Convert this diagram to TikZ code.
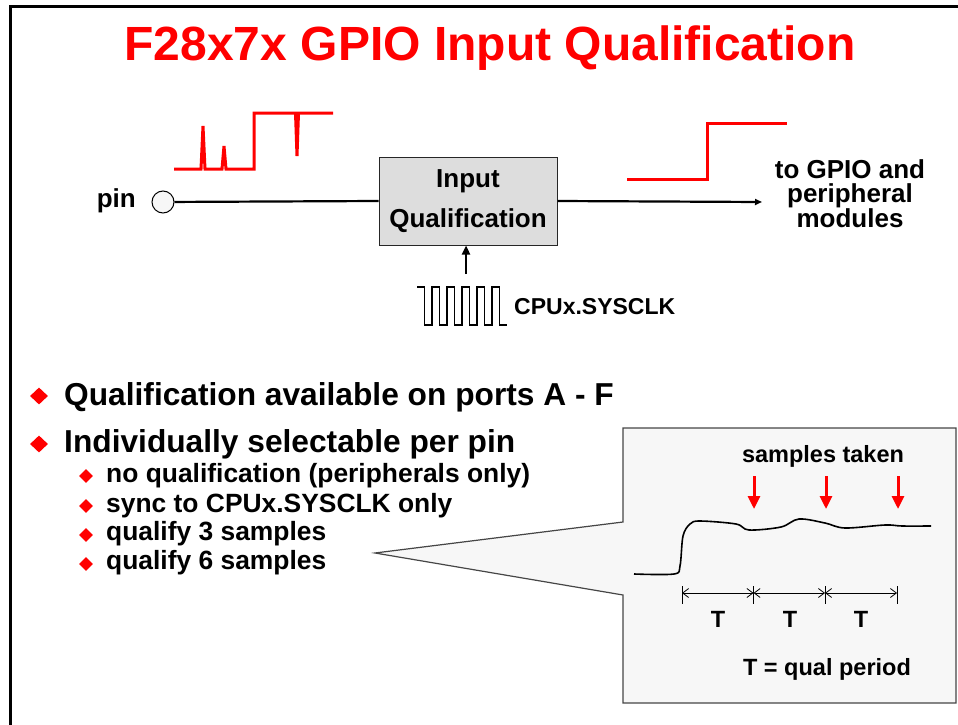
\documentclass[tikz,border=0pt]{standalone}
\usepackage{fontspec}
\setmainfont{Liberation Sans}
\usetikzlibrary{arrows.meta,positioning,calc,shapes.geometric}
\definecolor{slidered}{RGB}{255,0,0}
\definecolor{boxgray}{RGB}{221,221,221}
\definecolor{calloutgray}{RGB}{247,247,247}
\definecolor{edgegray}{RGB}{70,70,70}

\begin{document}
\begin{tikzpicture}[x=1pt,y=-1pt,
  wave/.style={slidered,line width=3pt},
  wire/.style={black,line width=2.2pt},
  qualbox/.style={rectangle,draw=black!85,fill=boxgray,line width=1pt,minimum width=178pt,minimum height=88pt,align=center,inner sep=0pt,font=\fontsize{26}{40}\selectfont\bfseries},
  txt/.style={font=\fontsize{26}{24}\selectfont\bfseries,align=center,inner sep=0pt},
  small/.style={font=\fontsize{23.5}{24}\selectfont\bfseries,inner sep=0pt},
  bigtext/.style={font=\fontsize{31.7}{34}\selectfont\bfseries,anchor=base west,inner sep=0pt},
  subtext/.style={font=\fontsize{26.4}{28}\selectfont\bfseries,anchor=base west,inner sep=0pt},
  bigdot/.style={diamond,fill=slidered,inner sep=0pt,minimum width=18pt,minimum height=17pt},
  subdot/.style={diamond,fill=slidered,inner sep=0pt,minimum width=14pt,minimum height=14pt},
  sample/.style={slidered,line width=3pt,-{Triangle[length=13pt,width=12pt]}},
  dim/.style={black,line width=0.8pt,{Straight Barb[length=6pt,width=9pt]}-{Straight Barb[length=6pt,width=9pt]}}
]
\useasboundingbox (0,0) rectangle (958,725);
% slide frame
\draw[line width=3pt] (10,725) -- (10,7) -- (958,7);
\node[anchor=base,inner sep=0pt,text=slidered,font=\fontsize{48}{50}\selectfont\bfseries] (title) at (490,60) {F28x7x GPIO Input Qualification};

% pin, qualification block, output
\node[circle,draw,fill=black!3,line width=1pt,minimum size=22pt,inner sep=0pt] (pinc) at (163,202) {};
\node[txt,anchor=base east] (pin) at (136,207) {pin};
\node[qualbox] (qual) at (468,201) {Input\\Qualification};
\coordinate (outend) at (762,202);
\node[txt] (out) at (850,194) {to GPIO and\\peripheral\\modules};
\draw[wire] (pinc) -- (qual.west);
\draw[wire,-{Triangle[length=7pt,width=6pt]}] (qual.east) -- (outend);

% waveforms
\draw[wave] (174,169) -- (201,169) -- (203,126) -- (205,169) -- (222,169) -- (224,146) -- (226,169)
  -- (254,169) -- (254,113) -- (295.5,113) -- (297,156) -- (298.5,113) -- (333,113);
\draw[wave] (627,179) -- (707,179) -- (707,123) -- (787,123);

% clock
\coordinate (clkend) at (466,274);
\draw[line width=2.4pt,-{Triangle[length=9pt,width=8pt]}] (clkend) -- (qual.south -| clkend);
\draw[line width=1.1pt] (417,287) \foreach \i in {1,...,5} { -- ++(7.5,0) -- ++(0,38) -- ++(7.5,0) -- ++(0,-38) }
  -- ++(7.5,0) -- ++(0,38) -- ++(7.5,0);
\node[small,anchor=west,font=\fontsize{23}{24}\selectfont\bfseries] (clk) at (514,307) {CPUx.SYSCLK};

% bullets
\node[bigdot] at (39,396) {};
\node[bigtext] (b1) at (64,405) {Qualification available on ports A - F};
\node[bigdot] at (39,444) {};
\node[bigtext] (b2) at (64,452) {Individually selectable per pin};
\node[subdot] at (86,476) {};
\node[subtext] (s1) at (106,482) {no qualification (peripherals only)};
\node[subdot] at (86,506) {};
\node[subtext] (s2) at (106,512) {sync to CPUx.SYSCLK only};
\node[subdot] at (86,535) {};
\node[subtext] (s3) at (106,540) {qualify 3 samples};
\node[subdot] at (86,564) {};
\node[subtext] (s4) at (106,569) {qualify 6 samples};

% callout with sampling detail
\draw[draw=edgegray,fill=calloutgray,line width=1.2pt] (623,428) -- (956,428) -- (956,703) -- (623,703)
  -- (623,595) -- (375,553) -- (623,522) -- cycle;
\node[small,anchor=base] (taken) at (823,462) {samples taken};
\foreach \x in {754,826,898}
  \draw[sample] (\x,476) -- (\x,509);
\draw[line width=1.6pt] plot[smooth,tension=0.55] coordinates {(634,574) (674,574) (680,566) (683,536) (690,524)
  (700,521) (736,524) (749,530) (781,527) (799,519) (825,523) (845,528) (885,525) (902,526) (931,526)};
\foreach \x in {682,753.5,825,897}
  \draw[line width=0.8pt] (\x,586) -- (\x,604);
\draw[dim] (682,593) -- (753.5,593);
\draw[dim] (753.5,593) -- (825,593);
\draw[dim] (825,593) -- (897,593);
\node[small,anchor=base] (t1) at (718,627) {T};
\node[small,anchor=base] (t2) at (790,627) {T};
\node[small,anchor=base] (t3) at (861,627) {T};
\node[small,anchor=base] (qp) at (827,675) {T = qual period};
\end{tikzpicture}
\end{document}
